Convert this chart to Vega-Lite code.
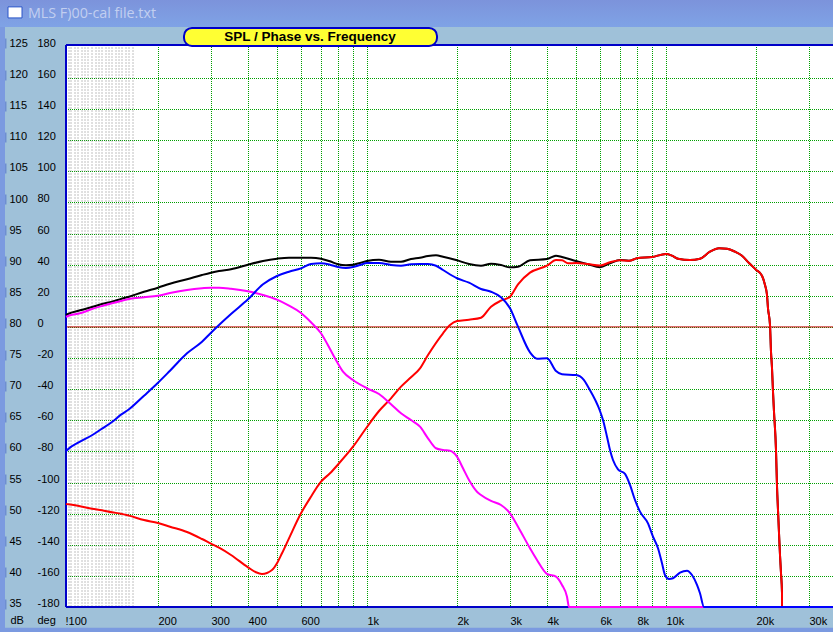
{
  "$schema": "https://vega.github.io/schema/vega-lite/v6.json",
  "width": 767,
  "height": 562,
  "autosize": {"type": "none"},
  "padding": {"left": 66, "top": 45, "right": 0, "bottom": 25},
  "background": "#9FC1D9",
  "config": {
    "view": {"fill": "white", "stroke": null},
    "font": "Liberation Sans"
  },
  "resolve": {"scale": {"y": "independent"}, "axis": {"y": "independent"}},
  "layer": [
    {
      "data": {"values": [
        {"part": "left", "f1": 59.2, "f2": 61.6, "d1": 210.2, "d2": -196},
        {"part": "bottom", "f1": 59.2, "f2": 36180, "d1": -193.4, "d2": -196}
      ]},
      "mark": {"type": "rect", "color": "#7B9AE0"},
      "encoding": {
        "x": {
          "field": "f1",
          "type": "quantitative",
          "scale": {"type": "log", "domain": [98.47, 36180], "nice": false, "round": true},
          "axis": {
            "title": null,
            "values": [100, 200, 300, 400, 500, 600, 700, 800, 900, 1000, 2000, 3000, 4000, 5000, 6000, 7000, 8000, 9000, 10000, 20000, 30000],
            "labelExpr": "datum.value == 100 ? '!100' : (datum.value == 500 || datum.value == 700 || datum.value == 800 || datum.value == 900 || datum.value == 5000 || datum.value == 7000 || datum.value == 9000) ? '' : datum.value >= 1000 ? (datum.value / 1000) + 'k' : datum.value",
            "labelAlign": "left",
            "labelBaseline": "top",
            "labelPadding": 8,
            "labelOffset": {"condition": {"test": "datum.value == 100", "value": -3}, "value": 0},
            "labelFontSize": 11,
            "labelColor": "black",
            "labelOverlap": false,
            "labelBound": false,
            "labelFlush": false,
            "tickSize": 0,
            "domain": false,
            "grid": true,
            "gridColor": "#00A000",
            "gridOpacity": {"condition": {"test": "datum.value == 100", "value": 0}, "value": 1},
            "gridDash": [1, 1],
            "gridDashOffset": 0.5,
            "gridWidth": 1
          }
        },
        "x2": {"field": "f2"},
        "y": {"field": "d1", "type": "quantitative", "scale": {"domain": [-180, 181.2], "nice": false, "zero": false}, "axis": null},
        "y2": {"field": "d2"}
      }
    },
    {
      "data": {"values": [{"part": "titlebar", "f1": 59.2, "f2": 36180, "d1": 210.2, "d2": 192.8}]},
      "mark": {
        "type": "rect",
        "color": {"gradient": "linear", "x1": 0, "y1": 0, "x2": 0, "y2": 1, "stops": [{"offset": 0, "color": "#7C93DB"}, {"offset": 1, "color": "#7FA3E6"}]}
      },
      "encoding": {
        "x": {"field": "f1", "type": "quantitative", "scale": {"type": "log", "domain": [98.47, 36180], "nice": false}},
        "x2": {"field": "f2"},
        "y": {"field": "d1", "type": "quantitative", "scale": {"domain": [-180, 181.2], "nice": false, "zero": false}, "axis": null},
        "y2": {"field": "d2"}
      }
    },
    {
      "data": {"values": [{"part": "icon", "f1": 63, "f2": 70.2, "d1": 205.7, "d2": 198.6}]},
      "mark": {"type": "rect", "fill": "white", "stroke": "#2A55C8", "strokeWidth": 1},
      "encoding": {
        "x": {"field": "f1", "type": "quantitative", "scale": {"type": "log", "domain": [98.47, 36180], "nice": false}},
        "x2": {"field": "f2"},
        "y": {"field": "d1", "type": "quantitative", "scale": {"domain": [-180, 181.2], "nice": false, "zero": false}, "axis": null},
        "y2": {"field": "d2"}
      }
    },
    {
      "data": {"values": [{"label": "MLS F)00-cal file.txt", "f": 73.5, "d": 201.2}]},
      "mark": {"type": "text", "align": "left", "baseline": "middle", "font": "Open Sans", "fontSize": 14.3, "color": "#C2CFF0"},
      "encoding": {
        "x": {"field": "f", "type": "quantitative", "scale": {"type": "log", "domain": [98.47, 36180], "nice": false}},
        "y": {"field": "d", "type": "quantitative", "scale": {"domain": [-180, 181.2], "nice": false, "zero": false}, "axis": null},
        "text": {"field": "label"}
      }
    },
    {
      "data": {"values": [
        {"f": 100.8}, {"f": 102.7}, {"f": 105.5}, {"f": 108}, {"f": 111.4}, {"f": 114}, {"f": 116.6},
        {"f": 120.3}, {"f": 124}, {"f": 127}, {"f": 130}, {"f": 134}, {"f": 137}, {"f": 140},
        {"f": 145}, {"f": 148}, {"f": 151}, {"f": 156}, {"f": 160}, {"f": 165}
      ]},
      "mark": {"type": "rule", "color": "#808080", "strokeDash": [1, 2], "strokeDashOffset": 0.5, "strokeWidth": 1},
      "encoding": {
        "x": {"field": "f", "type": "quantitative", "scale": {"type": "log", "domain": [98.47, 36180], "nice": false}}
      }
    },
    {
      "data": {"values": [{"line": "zero"}]},
      "mark": {"type": "rule", "color": "#C00000", "strokeWidth": 1},
      "encoding": {
        "y": {
          "datum": 0,
          "type": "quantitative",
          "scale": {"domain": [-180, 181.2], "nice": false, "zero": false},
          "axis": {
            "orient": "left",
            "title": "deg",
            "values": [180, 160, 140, 120, 100, 80, 60, 40, 20, 0, -20, -40, -60, -80, -100, -120, -140, -160, -180],
            "labelExpr": "'' + datum.value",
            "labelAlign": "left",
            "labelPadding": 29,
            "labelOffset": -3.5,
            "labelFontSize": 11,
            "labelColor": "black",
            "labelOverlap": false,
            "labelBound": false,
            "labelFlush": false,
            "tickSize": 0,
            "domain": false,
            "grid": true,
            "gridColor": {"condition": {"test": "abs(datum.value) == 180", "value": "transparent"}, "value": "#00A000"},
            "gridDash": [1, 1],
            "gridDashOffset": 0.5,
            "gridWidth": 1,
            "gridOpacity": 1,
            "titleAngle": 0,
            "titleAlign": "left",
            "titleBaseline": "middle",
            "titleFontWeight": "normal",
            "titleFontSize": 11,
            "titleColor": "black",
            "titleX": -29,
            "titleY": 575
          }
        }
      }
    },
    {
      "data": {"values": [{"line": "top"}]},
      "mark": {"type": "rule", "color": "#0000C8", "strokeWidth": 2},
      "encoding": {
        "y": {"datum": 181.2, "type": "quantitative", "scale": {"domain": [-180, 181.2], "nice": false, "zero": false}, "axis": null}
      }
    },
    {
      "data": {"values": [{"line": "bottom"}]},
      "mark": {"type": "rule", "color": "#0000C8", "strokeWidth": 2},
      "encoding": {
        "y": {"datum": -180, "type": "quantitative", "scale": {"domain": [-180, 181.2], "nice": false, "zero": false}, "axis": null}
      }
    },
    {
      "data": {"values": [{"line": "left"}]},
      "mark": {"type": "rule", "color": "#0000C8", "strokeWidth": 2},
      "encoding": {
        "x": {"datum": 98.47, "type": "quantitative", "scale": {"type": "log", "domain": [98.47, 36180], "nice": false}}
      }
    },
    {
      "data": {"values": [{"part": "pill", "f1": 244.4, "f2": 1715, "d1": 192.2, "d2": 180.6}]},
      "mark": {"type": "rect", "fill": "#FFFF33", "stroke": "#0000C8", "strokeWidth": 2, "cornerRadius": 8},
      "encoding": {
        "x": {"field": "f1", "type": "quantitative", "scale": {"type": "log", "domain": [98.47, 36180], "nice": false}},
        "x2": {"field": "f2"},
        "y": {"field": "d1", "type": "quantitative", "scale": {"domain": [-180, 181.2], "nice": false, "zero": false}, "axis": null},
        "y2": {"field": "d2"}
      }
    },
    {
      "data": {"values": [{"label": "SPL / Phase vs. Frequency", "f": 647, "d": 186.4}]},
      "mark": {"type": "text", "align": "center", "baseline": "middle", "fontSize": 13.5, "fontWeight": "bold", "color": "black"},
      "encoding": {
        "x": {"field": "f", "type": "quantitative", "scale": {"type": "log", "domain": [98.47, 36180], "nice": false}},
        "y": {"field": "d", "type": "quantitative", "scale": {"domain": [-180, 181.2], "nice": false, "zero": false}, "axis": null},
        "text": {"field": "label"}
      }
    },
    {
      "data": {"values": [
        {"curve":"black","freq":98.47,"spl":81.93},{"curve":"black","freq":100,"spl":82.09},{"curve":"black","freq":110,"spl":82.68},{"curve":"black","freq":120,"spl":83.21},{"curve":"black","freq":130,"spl":83.7},{"curve":"black","freq":140,"spl":84.07},{"curve":"black","freq":150,"spl":84.5},{"curve":"black","freq":160,"spl":84.87},{"curve":"black","freq":180,"spl":85.67},{"curve":"black","freq":200,"spl":86.32},{"curve":"black","freq":220,"spl":86.96},{"curve":"black","freq":250,"spl":87.67},{"curve":"black","freq":280,"spl":88.36},{"curve":"black","freq":300,"spl":88.73},{"curve":"black","freq":320,"spl":89.0},{"curve":"black","freq":350,"spl":89.27},{"curve":"black","freq":400,"spl":90.01},{"curve":"black","freq":450,"spl":90.61},{"curve":"black","freq":500,"spl":90.98},{"curve":"black","freq":550,"spl":91.14},{"curve":"black","freq":600,"spl":91.14},{"curve":"black","freq":650,"spl":91.14},{"curve":"black","freq":700,"spl":90.98},{"curve":"black","freq":750,"spl":90.56},{"curve":"black","freq":800,"spl":90.08},{"curve":"black","freq":850,"spl":89.92},{"curve":"black","freq":900,"spl":90.0},{"curve":"black","freq":950,"spl":90.29},{"curve":"black","freq":1000,"spl":90.61},{"curve":"black","freq":1100,"spl":90.82},{"curve":"black","freq":1200,"spl":90.49},{"curve":"black","freq":1300,"spl":90.49},{"curve":"black","freq":1400,"spl":90.93},{"curve":"black","freq":1500,"spl":91.14},{"curve":"black","freq":1600,"spl":91.41},{"curve":"black","freq":1700,"spl":91.52},{"curve":"black","freq":1800,"spl":91.3},{"curve":"black","freq":2000,"spl":90.72},{"curve":"black","freq":2200,"spl":90.12},{"curve":"black","freq":2400,"spl":89.85},{"curve":"black","freq":2600,"spl":90.17},{"curve":"black","freq":2800,"spl":89.96},{"curve":"black","freq":3000,"spl":89.59},{"curve":"black","freq":3200,"spl":89.69},{"curve":"black","freq":3500,"spl":90.72},{"curve":"black","freq":4000,"spl":90.93},{"curve":"black","freq":4300,"spl":91.46},{"curve":"black","freq":4500,"spl":91.25},{"curve":"black","freq":5000,"spl":90.61},{"curve":"black","freq":5500,"spl":90.08},{"curve":"black","freq":6000,"spl":89.61},{"curve":"black","freq":6500,"spl":90.24},{"curve":"black","freq":7000,"spl":90.77},{"curve":"black","freq":7500,"spl":90.65},{"curve":"black","freq":8000,"spl":91.04},{"curve":"black","freq":9000,"spl":91.25},{"curve":"black","freq":10000,"spl":91.73},{"curve":"black","freq":10500,"spl":91.46},{"curve":"black","freq":11000,"spl":90.98},{"curve":"black","freq":12000,"spl":90.77},{"curve":"black","freq":13000,"spl":90.98},{"curve":"black","freq":14000,"spl":92.1},{"curve":"black","freq":15000,"spl":92.65},{"curve":"black","freq":16000,"spl":92.58},{"curve":"black","freq":17000,"spl":92.1},{"curve":"black","freq":18000,"spl":91.46},{"curve":"black","freq":19000,"spl":90.28},{"curve":"black","freq":20000,"spl":89.21},{"curve":"black","freq":21000,"spl":88.24},{"curve":"black","freq":21440,"spl":86.75},{"curve":"black","freq":21720,"spl":85.14},{"curve":"black","freq":22000,"spl":83.0},{"curve":"black","freq":22220,"spl":80.32},{"curve":"black","freq":22390,"spl":76.03},{"curve":"black","freq":22620,"spl":73.41},{"curve":"black","freq":22850,"spl":69.6},{"curve":"black","freq":23030,"spl":66.39},{"curve":"black","freq":23250,"spl":60.23},{"curve":"black","freq":23460,"spl":54.45},{"curve":"black","freq":23700,"spl":50.59},{"curve":"black","freq":23930,"spl":46.9},{"curve":"black","freq":24060,"spl":43.36},{"curve":"black","freq":24250,"spl":40.47},{"curve":"black","freq":24380,"spl":37.25},{"curve":"black","freq":24490,"spl":35},
        {"curve":"red","freq":98.47,"spl":51.56},{"curve":"red","freq":100,"spl":51.51},{"curve":"red","freq":110,"spl":51.19},{"curve":"red","freq":120,"spl":50.8},{"curve":"red","freq":130,"spl":50.54},{"curve":"red","freq":140,"spl":50.22},{"curve":"red","freq":150,"spl":50.0},{"curve":"red","freq":160,"spl":49.68},{"curve":"red","freq":180,"spl":48.98},{"curve":"red","freq":200,"spl":48.5},{"curve":"red","freq":220,"spl":47.91},{"curve":"red","freq":250,"spl":47.06},{"curve":"red","freq":280,"spl":45.93},{"curve":"red","freq":300,"spl":45.18},{"curve":"red","freq":320,"spl":44.53},{"curve":"red","freq":350,"spl":43.36},{"curve":"red","freq":400,"spl":41.38},{"curve":"red","freq":425,"spl":40.58},{"curve":"red","freq":445,"spl":40.31},{"curve":"red","freq":480,"spl":40.95},{"curve":"red","freq":500,"spl":42.03},{"curve":"red","freq":520,"spl":43.63},{"curve":"red","freq":550,"spl":46.04},{"curve":"red","freq":600,"spl":50.06},{"curve":"red","freq":650,"spl":52.73},{"curve":"red","freq":700,"spl":55.14},{"curve":"red","freq":750,"spl":56.49},{"curve":"red","freq":800,"spl":57.9},{"curve":"red","freq":900,"spl":60.76},{"curve":"red","freq":1000,"spl":63.93},{"curve":"red","freq":1100,"spl":66.5},{"curve":"red","freq":1200,"spl":68.54},{"curve":"red","freq":1300,"spl":70.41},{"curve":"red","freq":1400,"spl":71.92},{"curve":"red","freq":1500,"spl":73.36},{"curve":"red","freq":1600,"spl":75.5},{"curve":"red","freq":1800,"spl":78.99},{"curve":"red","freq":1900,"spl":80.32},{"curve":"red","freq":2000,"spl":80.96},{"curve":"red","freq":2200,"spl":81.17},{"curve":"red","freq":2400,"spl":81.49},{"curve":"red","freq":2600,"spl":83.26},{"curve":"red","freq":2800,"spl":84.23},{"curve":"red","freq":3000,"spl":84.87},{"curve":"red","freq":3200,"spl":86.86},{"curve":"red","freq":3500,"spl":88.73},{"curve":"red","freq":4000,"spl":89.85},{"curve":"red","freq":4300,"spl":90.77},{"curve":"red","freq":4500,"spl":90.72},{"curve":"red","freq":4700,"spl":90.24},{"curve":"red","freq":5000,"spl":90.28},{"curve":"red","freq":5500,"spl":90.12},{"curve":"red","freq":6000,"spl":89.88},{"curve":"red","freq":6500,"spl":90.4},{"curve":"red","freq":7000,"spl":90.72},{"curve":"red","freq":7500,"spl":90.65},{"curve":"red","freq":8000,"spl":91.04},{"curve":"red","freq":9000,"spl":91.25},{"curve":"red","freq":10000,"spl":91.73},{"curve":"red","freq":10500,"spl":91.46},{"curve":"red","freq":11000,"spl":90.98},{"curve":"red","freq":12000,"spl":90.77},{"curve":"red","freq":13000,"spl":90.98},{"curve":"red","freq":14000,"spl":92.1},{"curve":"red","freq":15000,"spl":92.65},{"curve":"red","freq":16000,"spl":92.58},{"curve":"red","freq":17000,"spl":92.1},{"curve":"red","freq":18000,"spl":91.46},{"curve":"red","freq":19000,"spl":90.28},{"curve":"red","freq":20000,"spl":89.21},{"curve":"red","freq":21000,"spl":88.24},{"curve":"red","freq":21440,"spl":86.75},{"curve":"red","freq":21720,"spl":85.14},{"curve":"red","freq":22000,"spl":83.0},{"curve":"red","freq":22220,"spl":80.32},{"curve":"red","freq":22390,"spl":76.03},{"curve":"red","freq":22620,"spl":73.41},{"curve":"red","freq":22850,"spl":69.6},{"curve":"red","freq":23030,"spl":66.39},{"curve":"red","freq":23250,"spl":60.23},{"curve":"red","freq":23460,"spl":54.45},{"curve":"red","freq":23700,"spl":50.59},{"curve":"red","freq":23930,"spl":46.9},{"curve":"red","freq":24060,"spl":43.36},{"curve":"red","freq":24250,"spl":40.47},{"curve":"red","freq":24380,"spl":37.25},{"curve":"red","freq":24490,"spl":35},
        {"curve":"magenta","freq":98.47,"spl":81.61},{"curve":"magenta","freq":100,"spl":81.77},{"curve":"magenta","freq":110,"spl":82.2},{"curve":"magenta","freq":120,"spl":82.89},{"curve":"magenta","freq":130,"spl":83.37},{"curve":"magenta","freq":140,"spl":83.81},{"curve":"magenta","freq":150,"spl":84.18},{"curve":"magenta","freq":160,"spl":84.5},{"curve":"magenta","freq":180,"spl":84.77},{"curve":"magenta","freq":200,"spl":85.03},{"curve":"magenta","freq":220,"spl":85.46},{"curve":"magenta","freq":250,"spl":85.95},{"curve":"magenta","freq":280,"spl":86.22},{"curve":"magenta","freq":300,"spl":86.32},{"curve":"magenta","freq":320,"spl":86.32},{"curve":"magenta","freq":350,"spl":86.15},{"curve":"magenta","freq":400,"spl":85.74},{"curve":"magenta","freq":450,"spl":85.14},{"curve":"magenta","freq":500,"spl":84.39},{"curve":"magenta","freq":550,"spl":83.42},{"curve":"magenta","freq":600,"spl":82.25},{"curve":"magenta","freq":650,"spl":80.76},{"curve":"magenta","freq":700,"spl":78.99},{"curve":"magenta","freq":752,"spl":76.46},{"curve":"magenta","freq":782,"spl":74.97},{"curve":"magenta","freq":833,"spl":72.82},{"curve":"magenta","freq":900,"spl":71.48},{"curve":"magenta","freq":1000,"spl":70.15},{"curve":"magenta","freq":1100,"spl":69.23},{"curve":"magenta","freq":1200,"spl":67.58},{"curve":"magenta","freq":1300,"spl":66.13},{"curve":"magenta","freq":1400,"spl":65.05},{"curve":"magenta","freq":1500,"spl":63.98},{"curve":"magenta","freq":1600,"spl":62.11},{"curve":"magenta","freq":1700,"spl":60.51},{"curve":"magenta","freq":1800,"spl":60.23},{"curve":"magenta","freq":1895,"spl":60.12},{"curve":"magenta","freq":2000,"spl":59.16},{"curve":"magenta","freq":2100,"spl":57.29},{"curve":"magenta","freq":2200,"spl":55.41},{"curve":"magenta","freq":2327,"spl":53.53},{"curve":"magenta","freq":2400,"spl":53.0},{"curve":"magenta","freq":2600,"spl":52.04},{"curve":"magenta","freq":2800,"spl":51.4},{"curve":"magenta","freq":3000,"spl":50.06},{"curve":"magenta","freq":3200,"spl":47.91},{"curve":"magenta","freq":3500,"spl":44.44},{"curve":"magenta","freq":3700,"spl":42.56},{"curve":"magenta","freq":4000,"spl":40.31},{"curve":"magenta","freq":4300,"spl":39.87},{"curve":"magenta","freq":4500,"spl":38.54},{"curve":"magenta","freq":4655,"spl":36.66},{"curve":"magenta","freq":4750,"spl":35},{"curve":"magenta","freq":36180,"spl":35},
        {"curve":"blue","freq":98.47,"spl":60.03},{"curve":"blue","freq":100,"spl":60.35},{"curve":"blue","freq":110,"spl":61.57},{"curve":"blue","freq":120,"spl":62.6},{"curve":"blue","freq":130,"spl":63.66},{"curve":"blue","freq":140,"spl":64.73},{"curve":"blue","freq":150,"spl":65.91},{"curve":"blue","freq":160,"spl":66.77},{"curve":"blue","freq":180,"spl":68.96},{"curve":"blue","freq":200,"spl":71.05},{"curve":"blue","freq":220,"spl":72.98},{"curve":"blue","freq":250,"spl":75.77},{"curve":"blue","freq":280,"spl":77.64},{"curve":"blue","freq":300,"spl":79.08},{"curve":"blue","freq":320,"spl":80.32},{"curve":"blue","freq":350,"spl":82.09},{"curve":"blue","freq":400,"spl":84.45},{"curve":"blue","freq":450,"spl":86.86},{"curve":"blue","freq":500,"spl":88.2},{"curve":"blue","freq":550,"spl":88.89},{"curve":"blue","freq":600,"spl":89.43},{"curve":"blue","freq":650,"spl":90.12},{"curve":"blue","freq":700,"spl":90.24},{"curve":"blue","freq":750,"spl":90.01},{"curve":"blue","freq":800,"spl":89.64},{"curve":"blue","freq":850,"spl":89.48},{"curve":"blue","freq":900,"spl":89.64},{"curve":"blue","freq":950,"spl":89.96},{"curve":"blue","freq":1000,"spl":90.28},{"curve":"blue","freq":1100,"spl":90.28},{"curve":"blue","freq":1200,"spl":89.96},{"curve":"blue","freq":1300,"spl":89.85},{"curve":"blue","freq":1400,"spl":90.08},{"curve":"blue","freq":1500,"spl":90.12},{"curve":"blue","freq":1600,"spl":90.12},{"curve":"blue","freq":1700,"spl":89.85},{"curve":"blue","freq":1800,"spl":89.16},{"curve":"blue","freq":2000,"spl":87.83},{"curve":"blue","freq":2200,"spl":87.12},{"curve":"blue","freq":2400,"spl":86.11},{"curve":"blue","freq":2600,"spl":85.67},{"curve":"blue","freq":2800,"spl":84.77},{"curve":"blue","freq":3000,"spl":83.0},{"curve":"blue","freq":3200,"spl":80.05},{"curve":"blue","freq":3500,"spl":75.93},{"curve":"blue","freq":3700,"spl":74.91},{"curve":"blue","freq":4000,"spl":74.97},{"curve":"blue","freq":4300,"spl":72.93},{"curve":"blue","freq":4500,"spl":72.4},{"curve":"blue","freq":5000,"spl":72.29},{"curve":"blue","freq":5300,"spl":71.48},{"curve":"blue","freq":5500,"spl":70.41},{"curve":"blue","freq":6000,"spl":66.5},{"curve":"blue","freq":6170,"spl":65.05},{"curve":"blue","freq":6333,"spl":62.37},{"curve":"blue","freq":6500,"spl":60.23},{"curve":"blue","freq":6663,"spl":58.63},{"curve":"blue","freq":6928,"spl":57.13},{"curve":"blue","freq":7293,"spl":56.38},{"curve":"blue","freq":7578,"spl":54.61},{"curve":"blue","freq":7876,"spl":52.2},{"curve":"blue","freq":8185,"spl":50.32},{"curve":"blue","freq":8726,"spl":48.45},{"curve":"blue","freq":9068,"spl":46.3},{"curve":"blue","freq":9423,"spl":44.44},{"curve":"blue","freq":9674,"spl":42.03},{"curve":"blue","freq":9923,"spl":40.15},{"curve":"blue","freq":10257,"spl":39.5},{"curve":"blue","freq":10578,"spl":39.62},{"curve":"blue","freq":11137,"spl":40.52},{"curve":"blue","freq":11727,"spl":40.84},{"curve":"blue","freq":12190,"spl":40.15},{"curve":"blue","freq":12670,"spl":38.54},{"curve":"blue","freq":12990,"spl":37.2},{"curve":"blue","freq":13400,"spl":35},{"curve":"blue","freq":36180,"spl":35}
      ]},
      "mark": {"type": "line", "strokeWidth": 2, "interpolate": "monotone"},
      "encoding": {
        "x": {"field": "freq", "type": "quantitative", "scale": {"type": "log", "domain": [98.47, 36180], "nice": false}},
        "y": {
          "field": "spl",
          "type": "quantitative",
          "scale": {"domain": [35, 125.32], "nice": false, "zero": false},
          "axis": {
            "orient": "left",
            "title": "dB",
            "values": [125, 120, 115, 110, 105, 100, 95, 90, 85, 80, 75, 70, 65, 60, 55, 50, 45, 40, 35],
            "offset": 60,
            "tickSize": 3,
            "tickWidth": 10,
            "tickColor": "#6E8FD0",
            "tickOffset": -3.5,
            "domain": false,
            "grid": false,
            "labelAlign": "left",
            "labelPadding": -6,
            "labelFontSize": 11,
            "labelColor": "black",
            "labelOverlap": false,
            "labelBound": false,
            "labelFlush": false,
            "titleAngle": 0,
            "titleAlign": "left",
            "titleBaseline": "middle",
            "titleFontWeight": "normal",
            "titleFontSize": 11,
            "titleColor": "black",
            "titleX": 4,
            "titleY": 575
          }
        },
        "color": {
          "field": "curve",
          "type": "nominal",
          "legend": null,
          "scale": {"domain": ["black", "red", "magenta", "blue"], "range": ["#000000", "#FF0000", "#FF00FF", "#0000FF"]}
        },
        "order": {"field": "freq", "type": "quantitative"}
      }
    }
  ]
}
